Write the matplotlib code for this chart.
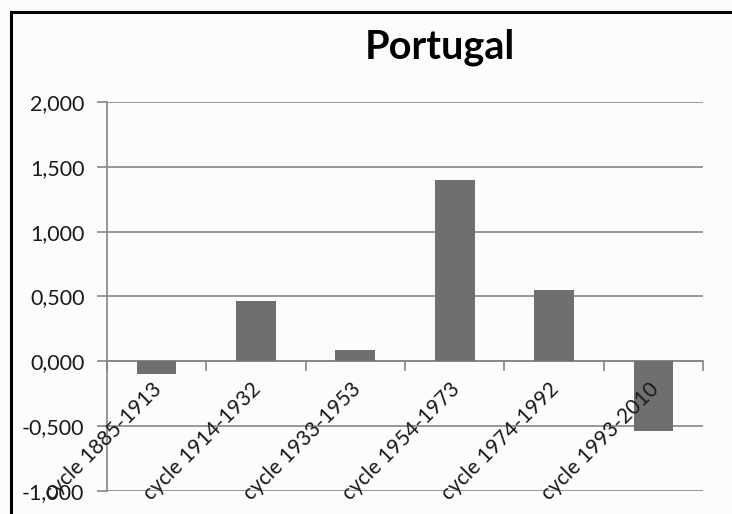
import numpy as np
import matplotlib.pyplot as plt
from matplotlib.lines import Line2D
from matplotlib.transforms import ScaledTranslation
from matplotlib.ticker import FuncFormatter, FixedLocator, NullFormatter

# data
cycles = ['cycle 1885-1913', 'cycle 1914-1932', 'cycle 1933-1953',
          'cycle 1954-1973', 'cycle 1974-1992', 'cycle 1993-2010']
values = [-0.095, 0.467, 0.083, 1.402, 0.551, -0.537]
yticks = [-1.0, -0.5, 0.0, 0.5, 1.0, 1.5, 2.0]

plt.rcParams['font.family'] = ['Lato', 'DejaVu Sans']

W, H = 732, 514
dpi_ = 100
bg = '#fcfcfc'
grey = '#868686'

fig = plt.figure(figsize=(W/dpi_, H/dpi_), dpi=dpi_, facecolor=bg)

# chart frame: only left and top edges are inside the picture
fig.add_artist(Line2D([11/W, 11/W], [0, 1 - 12/H], transform=fig.transFigure,
                      color='black', linewidth=2.2, solid_capstyle='projecting'))
fig.add_artist(Line2D([11/W, 1], [1 - 12/H, 1 - 12/H], transform=fig.transFigure,
                      color='black', linewidth=2.2, solid_capstyle='projecting'))

ax = fig.add_axes([106.7/W, 1 - 490.7/H, (703.3 - 106.7)/W, (490.7 - 102.3)/H])
ax.set_facecolor(bg)

x = np.arange(len(cycles))
ax.bar(x, values, width=0.4, color='#6f6f6f', zorder=2)

ax.set_xlim(-0.5, len(cycles) - 0.5)
ax.set_ylim(-1.0, 2.0)

# y axis
ax.set_yticks(yticks)
ax.yaxis.set_major_formatter(FuncFormatter(lambda v, p: f"{v:.3f}".replace('.', ',')))
ax.tick_params(axis='y', length=7, width=1.2, color=grey, pad=9,
               labelsize=15.5, labelcolor='#1a1a1a')
ax.grid(axis='y', color=grey, linewidth=1.2, zorder=0)
ax.yaxis.set_zorder(1)

# x axis sits on zero; tick marks between categories
ax.spines['bottom'].set_position(('data', 0))
ax.xaxis.set_major_locator(FixedLocator(np.arange(-0.5, len(cycles), 1.0)))
ax.xaxis.set_major_formatter(NullFormatter())
ax.tick_params(axis='x', which='major', length=7, width=1.2, color=grey)

# category labels, drawn over the bars like the reference
shift = ScaledTranslation(-5/dpi_, -18/dpi_, fig.dpi_scale_trans)
for xi, lab in zip(x, cycles):
  ax.text(xi, 0, lab, transform=ax.transData + shift, rotation=45,
          rotation_mode='anchor', ha='right', va='top', fontsize=15,
          color='#1a1a1a', zorder=5, clip_on=False)

for s in ['top', 'right']:
  ax.spines[s].set_visible(False)
for s in ['left', 'bottom']:
  ax.spines[s].set_color(grey)
  ax.spines[s].set_linewidth(1.2)
  ax.spines[s].set_zorder(1.5)

fig.text(440/W, 1 - 59/H, 'Portugal', ha='center', va='baseline',
         fontsize=28.5, fontweight='bold', color='black')

plt.savefig('out.png', dpi=dpi_, facecolor=bg)
